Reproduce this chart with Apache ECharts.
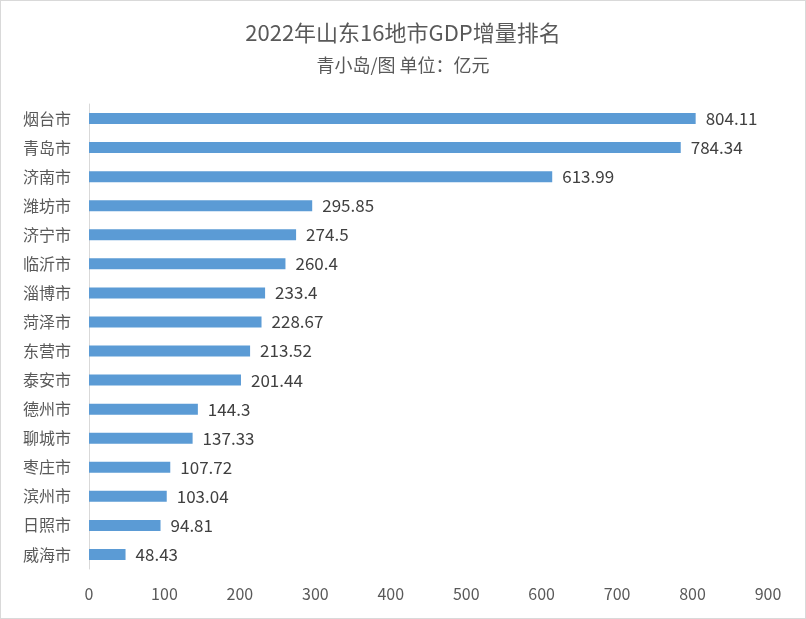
<!DOCTYPE html>
<html>
<head>
<meta charset="utf-8">
<script src="https://cdn.jsdelivr.net/npm/echarts@6/dist/echarts.min.js"></script>
<style>
html,body{margin:0;padding:0;background:#fff;}
#c{width:806px;height:619px;box-sizing:border-box;border:1px solid #d9d9d9;}
</style>
</head>
<body>
<div id="c"></div>
<script>
const categories = ['烟台市','青岛市','济南市','潍坊市','济宁市','临沂市','淄博市','菏泽市','东营市','泰安市','德州市','聊城市','枣庄市','滨州市','日照市','威海市'];
const values = [804.11,784.34,613.99,295.85,274.5,260.4,233.4,228.67,213.52,201.44,144.3,137.33,107.72,103.04,94.81,48.43];
const labels = ['804.11','784.34','613.99','295.85','274.5','260.4','233.4','228.67','213.52','201.44','144.3','137.33','107.72','103.04','94.81','48.43'];
const titleText = '2022年山东16地市GDP增量排名';
const subtitleText = '青小岛/图 单位：亿元';

const font = '"Noto Sans CJK SC", "Noto Sans", sans-serif';
const chart = echarts.init(document.getElementById('c'));
chart.setOption({
  animation: false,
  title: [
    {text: titleText, left: 'center', top: 16, textStyle: {fontFamily: font, fontSize: 22, fontWeight: 'normal', color: '#595959'}},
    {text: subtitleText, left: 'center', top: 50, textStyle: {fontFamily: font, fontSize: 18, fontWeight: 'normal', color: '#595959'}}
  ],
  grid: {left: 88, right: 37, top: 103, height: 465, containLabel: false},
  xAxis: {
    type: 'value', min: 0, max: 900, interval: 100,
    axisLine: {show: false}, axisTick: {show: false}, splitLine: {show: false},
    axisLabel: {fontFamily: font, fontSize: 16, color: '#595959', margin: 17}
  },
  yAxis: {
    type: 'category', data: categories, inverse: true,
    axisLine: {show: true, lineStyle: {color: '#d9d9d9', width: 1}},
    axisTick: {show: false},
    axisLabel: {fontFamily: font, fontSize: 16, color: '#595959', margin: 18}
  },
  series: [{
    type: 'bar', data: values, barWidth: 11,
    itemStyle: {color: '#5b9bd5'},
    label: {show: true, position: 'right', distance: 10, fontFamily: font, fontSize: 17, color: '#404040',
      formatter: p => labels[p.dataIndex]}
  }]
});
</script>
</body>
</html>
